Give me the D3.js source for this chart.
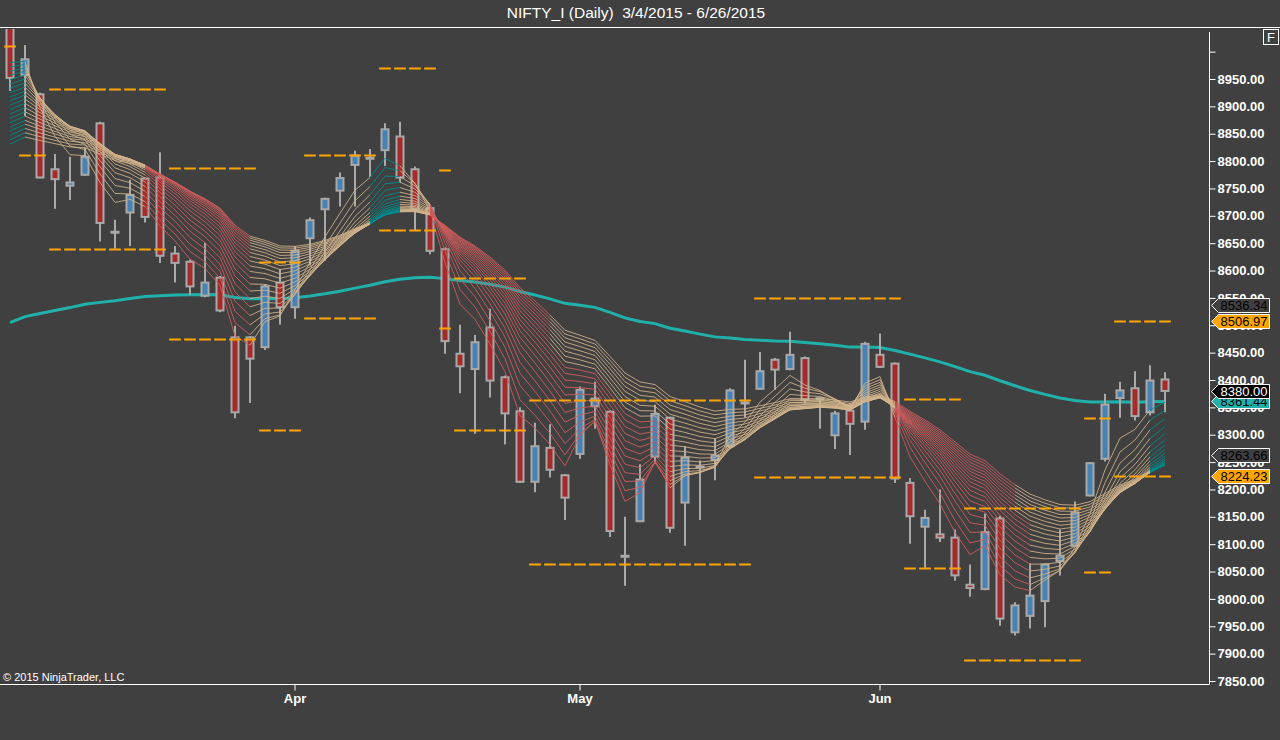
<!DOCTYPE html>
<html>
<head>
<meta charset="utf-8">
<script src="https://cdn.jsdelivr.net/npm/d3@7"></script>
<style>
  body { margin: 0; background: #404040; }
  svg { display: block; font-family: "Liberation Sans", Arial, sans-serif; }
</style>
</head>
<body>
<svg id="chart" width="1280" height="740"></svg>
<script>
// daily bars, NIFTY_I futures, 3/4/2015 - 6/26/2015
const dates = [
  '2015-03-04','2015-03-05','2015-03-09','2015-03-10','2015-03-11','2015-03-12','2015-03-13',
  '2015-03-16','2015-03-17','2015-03-18','2015-03-19','2015-03-20','2015-03-23','2015-03-24',
  '2015-03-25','2015-03-26','2015-03-27','2015-03-30','2015-03-31','2015-04-01','2015-04-06',
  '2015-04-07','2015-04-08','2015-04-09','2015-04-10','2015-04-13','2015-04-15','2015-04-16',
  '2015-04-17','2015-04-20','2015-04-21','2015-04-22','2015-04-23','2015-04-24','2015-04-27',
  '2015-04-28','2015-04-29','2015-04-30','2015-05-04','2015-05-05','2015-05-06','2015-05-07',
  '2015-05-08','2015-05-11','2015-05-12','2015-05-13','2015-05-14','2015-05-15','2015-05-18',
  '2015-05-19','2015-05-20','2015-05-21','2015-05-22','2015-05-25','2015-05-26','2015-05-27',
  '2015-05-28','2015-05-29','2015-06-01','2015-06-02','2015-06-03','2015-06-04','2015-06-05',
  '2015-06-08','2015-06-09','2015-06-10','2015-06-11','2015-06-12','2015-06-15','2015-06-16',
  '2015-06-17','2015-06-18','2015-06-19','2015-06-22','2015-06-23','2015-06-24','2015-06-25',
  '2015-06-26'
];
const opens = [
  9060, 8957, 8922, 8785, 8755, 8775, 8869, 8670, 8706, 8768, 8770, 8631, 8616, 8554, 8587, 8478,
  8478, 8460, 8578, 8533, 8659, 8712, 8746, 8793, 8805, 8820, 8845, 8785, 8714, 8639, 8448, 8420,
  8496, 8405, 8343, 8214, 8276, 8226, 8265, 8352, 8342, 8078, 8142, 8260, 8331, 8176, 8241, 8254,
  8279, 8358, 8384, 8437, 8420, 8440, 8366, 8299, 8344, 8324, 8446, 8430, 8212, 8132, 8118, 8112,
  8026, 8018, 8147, 7939, 7969, 7996, 8069, 8097, 8189, 8256, 8367, 8385, 8341, 8401
];
const highs = [
  9110, 9012, 8925, 8813, 8808, 8825, 8872, 8693, 8766, 8770, 8816, 8645, 8620, 8651, 8590, 8499,
  8480, 8575, 8603, 8645, 8697, 8733, 8779, 8819, 8822, 8869, 8872, 8790, 8721, 8642, 8501, 8482,
  8530, 8408, 8350, 8322, 8319, 8228, 8388, 8397, 8345, 8150, 8246, 8355, 8333, 8279, 8253, 8293,
  8385, 8437, 8451, 8440, 8488, 8443, 8368, 8344, 8358, 8470, 8485, 8432, 8221, 8163, 8200, 8127,
  8063, 8156, 8152, 7994, 8065, 8065, 8127, 8178, 8250, 8375, 8397, 8416, 8427, 8414
];
const lows = [
  8928, 8882, 8768, 8713, 8729, 8773, 8653, 8640, 8645, 8688, 8614, 8578, 8556, 8551, 8524, 8330,
  8358, 8455, 8501, 8512, 8609, 8618, 8717, 8717, 8771, 8791, 8761, 8673, 8630, 8448, 8376, 8302,
  8368, 8282, 8212, 8195, 8222, 8144, 8256, 8311, 8113, 8024, 8140, 8247, 8121, 8097, 8144, 8217,
  8274, 8331, 8383, 8382, 8418, 8357, 8311, 8274, 8263, 8309, 8422, 8212, 8101, 8057, 8104, 8033,
  8004, 8016, 7951, 7933, 7946, 7948, 8043, 8095, 8187, 8251, 8331, 8326, 8335, 8341
];
const closes = [
  8952, 8986, 8770, 8767, 8761, 8808, 8687, 8670, 8738, 8698, 8627, 8614, 8571, 8578, 8527, 8341,
  8439, 8571, 8533, 8636, 8692, 8731, 8769, 8810, 8805, 8858, 8770, 8712, 8636, 8471, 8425, 8469,
  8399, 8339, 8214, 8279, 8236, 8185, 8382, 8366, 8124, 8078, 8218, 8338, 8130, 8258, 8241, 8262,
  8381, 8358, 8416, 8419, 8446, 8364, 8366, 8339, 8320, 8466, 8424, 8220, 8151, 8148, 8112, 8043,
  8020, 8122, 7964, 7988, 8006, 8063, 8079, 8158, 8248, 8355, 8381, 8334, 8399, 8380
];

// moving average ribbon: periods and the values each line had on the first bar
const ribbonPeriods = [4, 5, 6, 7, 8, 9, 10, 11, 12, 13, 14, 15, 16, 17, 18, 19, 20, 21, 22, 23];
const ribbonSeeds = [8980, 8972, 8964, 8957, 8949, 8941, 8933, 8925, 8917, 8910,
                     8902, 8894, 8886, 8878, 8870, 8862, 8855, 8847, 8839, 8831];
// ribbon state for the segment ending on each bar: u = rising, d = falling, m = mixed, n = neutral
const ribbonTone = '-unnnnnnnndddddddnnnnnnnnuunnddddddddmmmmmmmmnnnnnnnnnnnnnnnddddddddmnnnnnnnnu';

// long trend average
const trendPeriod = 88;
const trendSeed = 8505;

// dashed levels: first bar, last bar, price
const levelFrom = [0, 1, 3, 3, 11, 11, 17, 17, 20, 20, 25, 25, 29, 29, 30, 30, 35, 35, 50, 50, 60, 60, 64, 64, 72, 72, 74, 74];
const levelTo   = [0, 2, 10, 10, 16, 16, 19, 19, 24, 24, 28, 28, 29, 29, 34, 34, 49, 49, 59, 59, 63, 63, 71, 71, 73, 73, 77, 77];
const levelValue = [9011, 8811, 8931, 8639, 8788, 8475, 8616, 8309, 8811, 8513, 8970, 8674, 8784, 8495, 8586, 8309,
                    8363, 8064, 8550, 8223, 8365, 8057, 8166, 7888, 8331, 8050, 8506.97, 8224.23];

// price markers on the axis
const markerValue = [8536.34, 8506.97, 8361.44, 8380.00, 8263.66, 8224.23];
const markerKind  = ['band', 'level', 'trend', 'close', 'band', 'level'];

const yTicks = d3.range(7850, 9001, 50);
const monthTicks = ['2015-04-01', '2015-05-04', '2015-06-01'];
const monthLabels = ['Apr', 'May', 'Jun'];

const bg = '#404040';
const axisX = 1209.5, plotTop = 28, plotBottom = 684.5;

const svg = d3.select('#chart');
svg.append('rect').attr('width', 1280).attr('height', 740).attr('fill', bg);

const x = d3.scaleBand().domain(dates).range([2.5, 1172.5]);
const cx = i => x(dates[i]) + x.bandwidth() / 2;
const y = d3.scaleLinear().domain([7850, 8950]).range([681, 79]);

svg.append('clipPath').attr('id', 'plotClip')
  .append('rect').attr('x', 0).attr('y', plotTop + 1).attr('width', axisX).attr('height', plotBottom - plotTop - 1);

const plot = svg.append('g').attr('clip-path', 'url(#plotClip)');

function ema(values, period, seed) {
  const a = 2 / (period + 1);
  const out = [seed];
  for (let i = 1; i < values.length; i++) {
    out.push(out[i - 1] + a * (values[i] - out[i - 1]));
  }
  return out;
}

// trend line (behind the candles)
const trend = ema(closes, trendPeriod, trendSeed);
plot.append('path')
  .datum(trend)
  .attr('fill', 'none')
  .attr('stroke', '#20b2aa')
  .attr('stroke-width', 3)
  .attr('d', d3.line().x((d, i) => cx(i)).y(d => y(d)));

// candles
const bars = dates.map((d, i) => ({i, o: opens[i], h: highs[i], l: lows[i], c: closes[i]}));
const candle = plot.selectAll('.candle')
  .data(bars)
  .enter()
  .append('g')
  .attr('class', 'candle');

candle.append('line')
  .attr('x1', d => cx(d.i)).attr('x2', d => cx(d.i))
  .attr('y1', d => y(d.h)).attr('y2', d => y(d.l))
  .attr('stroke', '#a9a9a9')
  .attr('stroke-width', 2);

candle.filter(d => d.o !== d.c)
  .append('rect')
  .attr('x', d => cx(d.i) - 3.5)
  .attr('width', 7)
  .attr('y', d => y(Math.max(d.o, d.c)))
  .attr('height', d => Math.abs(y(d.o) - y(d.c)))
  .attr('fill', d => d.c > d.o ? '#4682b4' : '#a52a2a')
  .attr('stroke', '#a9a9a9')
  .attr('stroke-width', 2);

candle.filter(d => d.o === d.c)
  .append('line')
  .attr('x1', d => cx(d.i) - 4.5).attr('x2', d => cx(d.i) + 4.5)
  .attr('y1', d => y(d.c)).attr('y2', d => y(d.c))
  .attr('stroke', '#a9a9a9')
  .attr('stroke-width', 3);

// ribbon
const toneColor = {u: '#008b8b', d: '#cd5c5c', n: '#d2b48c'};
const ribbon = ribbonPeriods.map((p, k) => ema(closes, p, ribbonSeeds[k]));
const segs = [];
ribbon.forEach((vals, k) => {
  for (let i = 1; i < vals.length; i++) {
    let tone = ribbonTone[i];
    if (tone === 'm') tone = k < 12 ? 'd' : 'n';
    segs.push({k, i, v0: vals[i - 1], v1: vals[i], tone});
  }
});
plot.append('g')
  .selectAll('line')
  .data(segs)
  .enter()
  .append('line')
  .attr('x1', d => cx(d.i - 1)).attr('x2', d => cx(d.i))
  .attr('y1', d => y(d.v0)).attr('y2', d => y(d.v1))
  .attr('stroke', d => toneColor[d.tone])
  .attr('stroke-opacity', d => d.tone === 'n' ? 0.85 : 0.9)
  .attr('stroke-width', 1);

// dashed levels, one dash per bar
plot.append('g')
  .selectAll('line')
  .data(levelValue.map((v, j) => ({from: levelFrom[j], to: levelTo[j], v})))
  .enter()
  .append('line')
  .attr('x1', d => cx(d.from) - 5.85)
  .attr('x2', d => cx(d.to) + 5.85)
  .attr('y1', d => Math.round(y(d.v)) + 0.5)
  .attr('y2', d => Math.round(y(d.v)) + 0.5)
  .attr('stroke', '#ffa500')
  .attr('stroke-width', 2)
  .attr('stroke-dasharray', '11.7,3.3');

// frame
svg.append('line').attr('x1', 0).attr('x2', 1280).attr('y1', 27.5).attr('y2', 27.5)
  .attr('stroke', '#fff').attr('stroke-width', 1);
svg.append('line').attr('x1', axisX).attr('x2', axisX).attr('y1', 32).attr('y2', plotBottom)
  .attr('stroke', '#fff').attr('stroke-width', 1);
svg.append('line').attr('x1', 0).attr('x2', axisX).attr('y1', plotBottom).attr('y2', plotBottom)
  .attr('stroke', '#fff').attr('stroke-width', 1);

// y axis
const yAxis = svg.append('g')
  .attr('transform', `translate(${axisX},0)`)
  .call(d3.axisRight(y)
    .tickValues(yTicks)
    .tickSize(6)
    .tickPadding(2)
    .tickFormat(d => d === 9000 ? '' : d3.format('.2f')(d)));
yAxis.select('.domain').remove();
yAxis.selectAll('line').attr('stroke', '#fff');
yAxis.selectAll('text')
  .attr('fill', '#fff')
  .style('font-size', '13px')
  .style('font-weight', 'bold')
  .style('font-family', '"Liberation Sans", Arial, sans-serif');

// x axis
const xAxis = svg.append('g')
  .attr('transform', `translate(0,${plotBottom})`)
  .call(d3.axisBottom(x)
    .tickValues(monthTicks)
    .tickSize(6)
    .tickPadding(3)
    .tickFormat((d, j) => monthLabels[j]));
xAxis.select('.domain').remove();
xAxis.selectAll('line').attr('stroke', '#fff');
xAxis.selectAll('text')
  .attr('fill', '#fff')
  .style('font-size', '13px')
  .style('font-weight', 'bold')
  .style('font-family', '"Liberation Sans", Arial, sans-serif');

// price markers
const markerStyle = {
  band:  {fill: bg, text: '#000'},
  level: {fill: '#ffa500', text: '#000'},
  trend: {fill: '#20b2aa', text: '#000'},
  close: {fill: '#000', text: '#fff'}
};
const marker = svg.append('g')
  .selectAll('g')
  .data(markerValue.map((v, j) => ({v, kind: markerKind[j]})))
  .enter()
  .append('g')
  .attr('transform', d => `translate(0,${Math.round(y(d.v)) + 0.5})`);
marker.append('path')
  .attr('d', 'M1211.5,0 L1218.5,-7 L1269.5,-7 L1269.5,7 L1218.5,7 Z')
  .attr('fill', d => markerStyle[d.kind].fill)
  .attr('stroke', '#fff')
  .attr('stroke-width', 1);
marker.append('text')
  .attr('x', 1220.5)
  .attr('dy', '0.36em')
  .attr('fill', d => markerStyle[d.kind].text)
  .style('font-size', '13px')
  .text(d => d3.format('.2f')(d.v));

// title, copyright, F box
svg.append('text')
  .attr('x', 636).attr('y', 18)
  .attr('text-anchor', 'middle')
  .attr('fill', '#fff')
  .style('font-size', '15.5px')
  .style('white-space', 'pre')
  .text('NIFTY_I (Daily)  3/4/2015 - 6/26/2015');

svg.append('text')
  .attr('x', 3).attr('y', 681)
  .attr('fill', '#fff')
  .style('font-size', '11px')
  .text('\u00a9 2015 NinjaTrader, LLC');

svg.append('rect')
  .attr('x', 1263.5).attr('y', 29.5).attr('width', 15).attr('height', 15)
  .attr('fill', 'none').attr('stroke', '#fff');
svg.append('text')
  .attr('x', 1271).attr('y', 42)
  .attr('text-anchor', 'middle')
  .attr('fill', '#fff')
  .style('font-size', '13px')
  .text('F');
</script>
</body>
</html>
